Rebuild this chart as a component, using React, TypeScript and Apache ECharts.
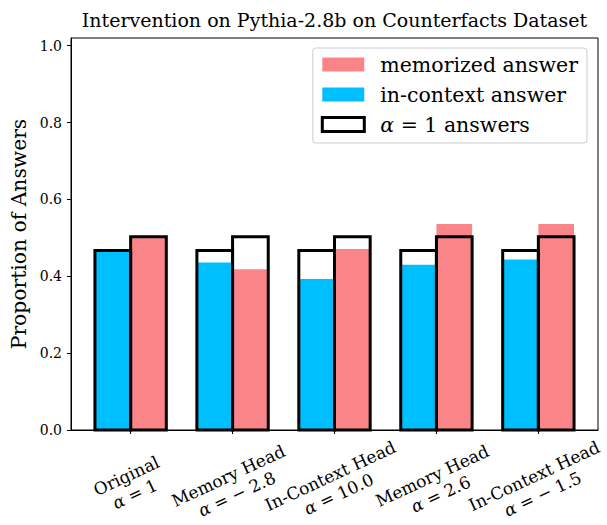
import React, { useEffect, useRef } from "react";
import * as echarts from "echarts";

const categoryNames = ["Original", "Memory Head", "In-Context Head", "Memory Head", "In-Context Head"];
const alphaValues = ["1", "− 2.8", "10.0", "2.6", "− 1.5"];
const categoryIndex = [0, 1, 2, 3, 4];

const inContextAnswer = [0.467, 0.436, 0.393, 0.43, 0.4435];
const memorizedAnswer = [0.503, 0.418, 0.471, 0.536, 0.536];
const alphaOneInContext = [0.467, 0.467, 0.467, 0.467, 0.467];
const alphaOneMemorized = [0.503, 0.503, 0.503, 0.503, 0.503];

const yTicks = [0, 0.2, 0.4, 0.6, 0.8, 1.0];

const BLUE = "#00BFFF";
const RED = "#FA8589";
const FONT = "DejaVu Serif";
const BAR_W = 0.35;

export default function App() {
  const ref = useRef<HTMLDivElement>(null);
  useEffect(() => {
    if (!ref.current) return;
    const chart = echarts.init(ref.current, null, { renderer: "svg" });

    const fillRender = (offset: number, color: string) => (params: any, api: any) => {
      const x = api.value(0);
      const v = api.value(1);
      const p0 = api.coord([x + offset, v]);
      const p1 = api.coord([x + offset + BAR_W, 0]);
      return {
        type: "rect",
        shape: { x: p0[0], y: p0[1], width: p1[0] - p0[0], height: p1[1] - p0[1] },
        style: { fill: color },
      };
    };

    const outlineRender = (params: any, api: any) => {
      const x = api.value(0);
      const a = api.value(1);
      const m = api.value(2);
      const b0 = api.coord([x - BAR_W, a]);
      const b1 = api.coord([x, 0]);
      const r0 = api.coord([x, m]);
      const r1 = api.coord([x + BAR_W, 0]);
      const st = { fill: "none", stroke: "#000", lineWidth: 3 };
      return {
        type: "group",
        children: [
          { type: "rect", shape: { x: b0[0], y: b0[1], width: b1[0] - b0[0], height: b1[1] - b0[1] }, style: st },
          { type: "rect", shape: { x: r0[0], y: r0[1], width: r1[0] - r0[0], height: r1[1] - r0[1] }, style: st },
        ],
      };
    };

    const option: any = {
      animation: false,
      backgroundColor: "#fff",
      textStyle: { fontFamily: FONT, color: "#000" },
      title: {
        text: "Intervention on Pythia-2.8b on Counterfacts Dataset",
        left: 334.5,
        textAlign: "center",
        top: 10,
        padding: 0,
        textStyle: { fontFamily: FONT, fontSize: 19, fontWeight: "normal", color: "#000" },
      },
      grid: {
        left: 71,
        top: 38,
        right: 9,
        bottom: 95,
        outerBoundsMode: "none",
        show: true,
        borderColor: "#000",
        borderWidth: 1,
        backgroundColor: "transparent",
      },
      legend: {
        orient: "vertical",
        right: 20,
        top: 48,
        padding: [6, 9, 8, 8],
        itemWidth: 42,
        itemHeight: 14,
        itemGap: 9,
        borderColor: "#cccccc",
        borderWidth: 1,
        borderRadius: 3,
        backgroundColor: "rgba(255,255,255,0.8)",
        selectedMode: false,
        textStyle: {
          fontFamily: FONT,
          fontSize: 20.5,
          color: "#000",
          padding: [0, 0, 0, 11],
          rich: {
            it: { fontFamily: FONT, fontSize: 20.5, fontStyle: "italic", color: "#000" },
            n: { fontFamily: FONT, fontSize: 20.5, color: "#000" },
          },
        },
        formatter: (name: string) => (name.startsWith("α") ? "{it|α}{n| = 1 answers}" : name),
        data: [
          { name: "memorized answer", icon: "rect", itemStyle: { color: RED, borderWidth: 0 } },
          { name: "in-context answer", icon: "rect", itemStyle: { color: BLUE, borderWidth: 0 } },
          {
            name: "α = 1 answers",
            icon: "rect",
            itemStyle: { color: "#fff", borderColor: "#000", borderWidth: 3 },
          },
        ],
      },
      xAxis: {
        type: "value",
        min: -0.585,
        max: 4.585,
        splitLine: { show: false },
        axisLine: { show: true, onZero: false, lineStyle: { color: "#000", width: 1 } },
        axisTick: {
          show: true,
          customValues: categoryIndex,
          length: 4,
          lineStyle: { color: "#000", width: 1 },
        },
        axisLabel: {
          show: true,
          customValues: categoryIndex,
          rotate: 25,
          align: "center",
          verticalAlign: "middle",
          margin: 55,
          hideOverlap: false,
          fontFamily: FONT,
          fontSize: 17,
          color: "#000",
          formatter: (v: number) => {
            const i = Math.round(v);
            return `{t|${categoryNames[i]}}\n{it|α}{t| = ${alphaValues[i]}}`;
          },
          rich: {
            t: { fontFamily: FONT, fontSize: 17, color: "#000", lineHeight: 20 },
            it: { fontFamily: FONT, fontSize: 17, fontStyle: "italic", color: "#000", lineHeight: 20 },
          },
        },
      },
      yAxis: {
        type: "value",
        min: 0,
        max: 1.02,
        name: "Proportion of Answers",
        nameLocation: "middle",
        nameRotate: 90,
        nameGap: 42,
        nameTextStyle: { fontFamily: FONT, fontSize: 20.3, color: "#000" },
        splitLine: { show: false },
        axisLine: { show: true, onZero: false, lineStyle: { color: "#000", width: 1 } },
        axisTick: { show: true, customValues: yTicks, length: 4, lineStyle: { color: "#000" } },
        axisLabel: {
          show: true,
          customValues: yTicks,
          margin: 9,
          fontFamily: FONT,
          fontSize: 14,
          color: "#000",
          formatter: (v: number) => v.toFixed(1),
        },
      },
      series: [
        {
          name: "in-context answer",
          type: "custom",
          renderItem: fillRender(-BAR_W, BLUE),
          itemStyle: { color: BLUE },
          encode: { x: 0, y: 1 },
          data: categoryIndex.map((i) => [i, inContextAnswer[i]]),
          z: 2,
        },
        {
          name: "memorized answer",
          type: "custom",
          renderItem: fillRender(0, RED),
          itemStyle: { color: RED },
          encode: { x: 0, y: 1 },
          data: categoryIndex.map((i) => [i, memorizedAnswer[i]]),
          z: 2,
        },
        {
          name: "α = 1 answers",
          type: "custom",
          renderItem: outlineRender,
          itemStyle: { color: "#fff", borderColor: "#000", borderWidth: 3 },
          encode: { x: 0, y: [1, 2] },
          data: categoryIndex.map((i) => [i, alphaOneInContext[i], alphaOneMemorized[i]]),
          z: 3,
        },
      ],
    };

    chart.setOption(option);
    return () => chart.dispose();
  }, []);

  return (
    <div
      ref={ref}
      style={{ position: "fixed", left: 0, top: 0, width: 607, height: 525, background: "#fff" }}
    />
  );
}
